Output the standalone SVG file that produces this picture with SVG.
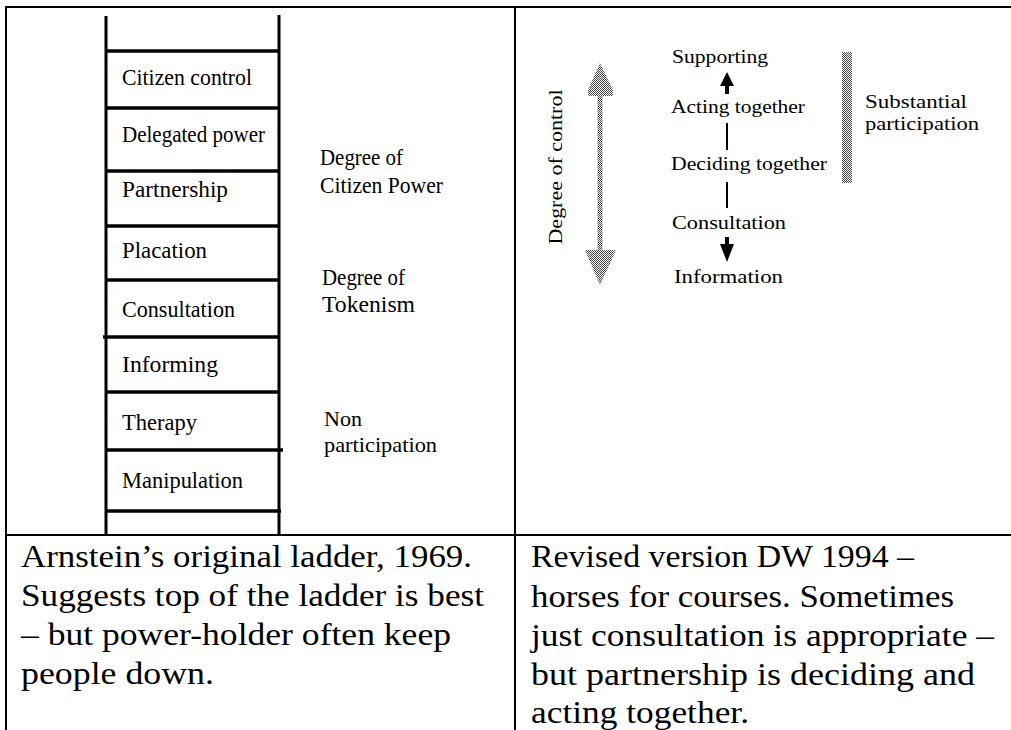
<svg xmlns="http://www.w3.org/2000/svg" width="1011" height="730" viewBox="0 0 1011 730">
<style>
.t{font-family:"Liberation Serif","DejaVu Serif",serif;fill:#000}
.lad{font-size:24px}
.np{font-size:22px}
.rp{font-size:19px}
.cap{font-size:31px}
.frame{stroke:#000;stroke-width:2;fill:none}
.rail{stroke:#000;stroke-width:3;fill:none}
.rung{stroke:#000;stroke-width:3.5;fill:none}
.ln{stroke:#000;stroke-width:2;fill:none}
</style>
<defs>
<pattern id="dots" width="2" height="2" patternUnits="userSpaceOnUse">
<rect x="0" y="0" width="1" height="1" fill="#444"/>
<rect x="1" y="1" width="1" height="1" fill="#444"/>
</pattern>
</defs>
<rect x="0" y="0" width="1011" height="730" fill="#fff"/>
<g id="table">
<line class="frame" x1="5" y1="7" x2="1011" y2="7"/>
<line class="frame" x1="6" y1="6" x2="6" y2="730"/>
<line class="frame" x1="515" y1="6" x2="515" y2="730"/>
<line class="frame" x1="5" y1="535" x2="1011" y2="535"/>
</g>
<g id="ladder">
<line class="rail" x1="106" y1="16" x2="106" y2="535"/>
<line class="rail" x1="279" y1="15" x2="279" y2="535"/>
<line class="rung" x1="106" y1="51" x2="279" y2="51"/>
<line class="rung" x1="106" y1="108" x2="279" y2="108"/>
<line class="rung" x1="106" y1="171" x2="279" y2="171"/>
<line class="rung" x1="106" y1="226" x2="279" y2="226"/>
<line class="rung" x1="106" y1="280" x2="279" y2="280"/>
<line class="rung" x1="103" y1="337" x2="279" y2="337"/>
<line class="rung" x1="106" y1="392" x2="279" y2="392"/>
<line class="rung" x1="106" y1="450" x2="283" y2="450"/>
<line class="rung" x1="106" y1="511" x2="281" y2="511"/>
</g>
<g id="rung-labels">
<text class="t lad" x="122" y="85" textLength="130" lengthAdjust="spacingAndGlyphs">Citizen control</text>
<text class="t lad" x="122" y="142" textLength="143" lengthAdjust="spacingAndGlyphs">Delegated power</text>
<text class="t lad" x="122" y="197" textLength="106" lengthAdjust="spacingAndGlyphs">Partnership</text>
<text class="t lad" x="122" y="258" textLength="85" lengthAdjust="spacingAndGlyphs">Placation</text>
<text class="t lad" x="122" y="317" textLength="113" lengthAdjust="spacingAndGlyphs">Consultation</text>
<text class="t lad" x="122" y="372" textLength="96" lengthAdjust="spacingAndGlyphs">Informing</text>
<text class="t lad" x="122" y="430" textLength="75" lengthAdjust="spacingAndGlyphs">Therapy</text>
<text class="t lad" x="122" y="488" textLength="121" lengthAdjust="spacingAndGlyphs">Manipulation</text>
</g>
<g id="citizen-power">
<text class="t lad" x="320" y="165" textLength="83" lengthAdjust="spacingAndGlyphs">Degree of</text>
<text class="t lad" x="320" y="193" textLength="123" lengthAdjust="spacingAndGlyphs">Citizen Power</text>
</g>
<g id="tokenism">
<text class="t lad" x="322" y="285" textLength="83" lengthAdjust="spacingAndGlyphs">Degree of</text>
<text class="t lad" x="322" y="312" textLength="93" lengthAdjust="spacingAndGlyphs">Tokenism</text>
</g>
<g id="non-participation">
<text class="t np" x="324" y="426" textLength="38" lengthAdjust="spacingAndGlyphs">Non</text>
<text class="t np" x="324" y="452" textLength="113" lengthAdjust="spacingAndGlyphs">participation</text>
</g>
<g id="degree-of-control">
<path d="M600,63 L613,90 L613,96 L602.5,96 L602.5,250 L616,250 L600,285 L585,250 L597.5,250 L597.5,96 L588,96 L588,90 Z" fill="url(#dots)"/>
<text class="t rp" transform="translate(562,167) rotate(-90)" text-anchor="middle" textLength="155" lengthAdjust="spacingAndGlyphs">Degree of control</text>
</g>
<g id="supporting"><text class="t rp" x="672" y="63" textLength="96" lengthAdjust="spacingAndGlyphs">Supporting</text></g>
<g id="acting-together"><text class="t rp" x="671" y="113" textLength="134" lengthAdjust="spacingAndGlyphs">Acting together</text></g>
<g id="deciding-together"><text class="t rp" x="671" y="170" textLength="156" lengthAdjust="spacingAndGlyphs">Deciding together</text></g>
<g id="consultation"><text class="t rp" x="672" y="229" textLength="114" lengthAdjust="spacingAndGlyphs">Consultation</text></g>
<g id="information"><text class="t rp" x="674" y="283" textLength="109" lengthAdjust="spacingAndGlyphs">Information</text></g>
<g id="substantial-participation">
<rect x="842" y="52" width="10" height="131" fill="url(#dots)"/>
<text class="t rp" x="865" y="108" textLength="102" lengthAdjust="spacingAndGlyphs">Substantial</text>
<text class="t rp" x="865" y="130" textLength="114" lengthAdjust="spacingAndGlyphs">participation</text>
</g>
<g id="connectors">
<path d="M727,72 L734,86 L729,86 L729,94 L725,94 L725,86 L720,86 Z" fill="#000"/>
<line class="ln" x1="727" y1="123" x2="727" y2="150"/>
<line class="ln" x1="727" y1="182" x2="727" y2="208"/>
<path d="M725,237 L729,237 L729,244 L734,244 L727,262 L720,244 L725,244 Z" fill="#000"/>
</g>
<g id="caption-left">
<text class="t cap" x="21" y="567" textLength="451" lengthAdjust="spacingAndGlyphs">Arnstein’s original ladder, 1969.</text>
<text class="t cap" x="21" y="606" textLength="463" lengthAdjust="spacingAndGlyphs">Suggests top of the ladder is best</text>
<text class="t cap" x="21" y="645" textLength="430" lengthAdjust="spacingAndGlyphs">– but power-holder often keep</text>
<text class="t cap" x="21" y="684" textLength="193" lengthAdjust="spacingAndGlyphs">people down.</text>
</g>
<g id="caption-right">
<text class="t cap" x="531" y="567" textLength="383" lengthAdjust="spacingAndGlyphs">Revised version DW 1994 –</text>
<text class="t cap" x="531" y="607" textLength="423" lengthAdjust="spacingAndGlyphs">horses for courses. Sometimes</text>
<text class="t cap" x="531" y="646" textLength="463" lengthAdjust="spacingAndGlyphs">just consultation is appropriate –</text>
<text class="t cap" x="531" y="685" textLength="444" lengthAdjust="spacingAndGlyphs">but partnership is deciding and</text>
<text class="t cap" x="531" y="723" textLength="218" lengthAdjust="spacingAndGlyphs">acting together.</text>
</g>
</svg>
